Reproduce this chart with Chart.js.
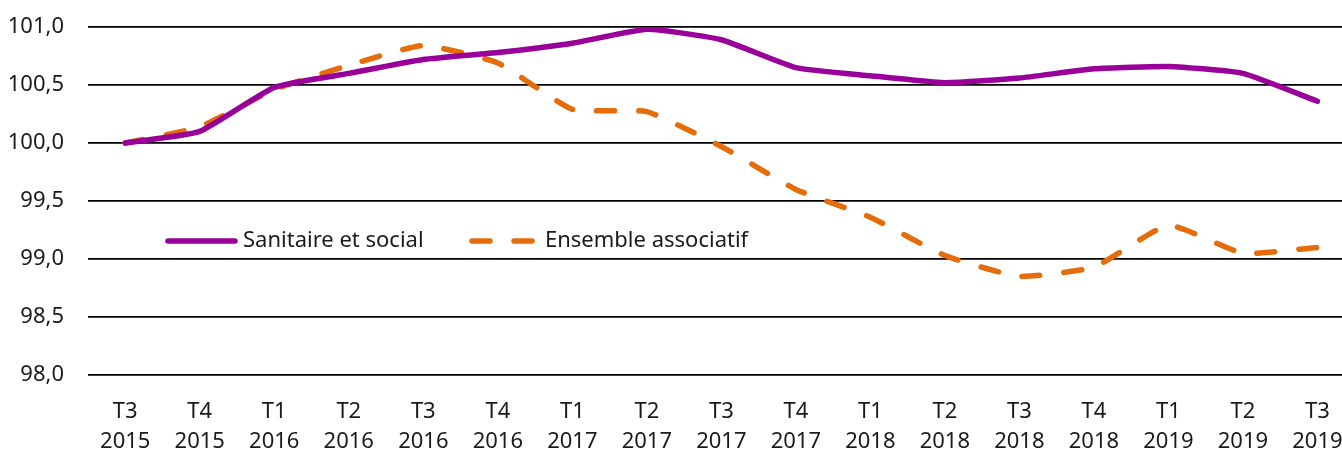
<!DOCTYPE html>
<html>
<head>
<meta charset="utf-8">
<script src="https://cdn.jsdelivr.net/npm/chart.js@4/dist/chart.umd.min.js"></script>
<style>
  html, body { margin: 0; padding: 0; background: #fff; overflow: hidden; }
  #wrap { width: 1342px; height: 450px; position: relative; }
</style>
</head>
<body>
<div id="wrap"><canvas id="chart" width="1342" height="450"></canvas></div>
<script>
const quarters = ["T3", "T4", "T1", "T2", "T3", "T4", "T1", "T2", "T3", "T4", "T1", "T2", "T3", "T4", "T1", "T2", "T3"];
const years = ["2015", "2015", "2016", "2016", "2016", "2016", "2017", "2017", "2017", "2017", "2018", "2018", "2018", "2018", "2019", "2019", "2019"];
const sanitaire = [100.0, 100.1, 100.48, 100.6, 100.72, 100.78, 100.86, 100.98, 100.89, 100.65, 100.58, 100.52, 100.56, 100.64, 100.66, 100.6, 100.36];
const ensemble = [100.0, 100.14, 100.46, 100.67, 100.84, 100.69, 100.29, 100.27, 99.97, 99.6, 99.36, 99.03, 98.85, 98.93, 99.29, 99.05, 99.1];

const FONT = "'Noto Sans', 'Open Sans', sans-serif";
const fmt = v => v.toFixed(1).replace(".", ",");

// légende dessinée dans la zone du graphique
const insideLegend = {
  id: "insideLegend",
  afterDraw(chart) {
    const ctx = chart.ctx;
    const y = 241;
    const items = [{ x: 168, len: 67, textX: 243 }, { x: 472, len: 60, textX: 545 }];
    ctx.save();
    ctx.font = "22px " + FONT;
    ctx.textBaseline = "middle";
    chart.data.datasets.forEach((ds, i) => {
      const it = items[i];
      ctx.strokeStyle = ds.borderColor;
      ctx.lineWidth = ds.borderWidth;
      ctx.lineCap = "round";
      ctx.setLineDash(ds.borderDash || []);
      ctx.beginPath();
      ctx.moveTo(it.x, y);
      ctx.lineTo(it.x + it.len, y);
      ctx.stroke();
      ctx.setLineDash([]);
      ctx.fillStyle = "#1a1a1a";
      ctx.fillText(ds.label, it.textX, y);
    });
    ctx.restore();
  }
};

new Chart(document.getElementById("chart"), {
  type: "line",
  data: {
    datasets: [
      {
        label: "Sanitaire et social",
        data: sanitaire.map((v, i) => ({ x: i, y: v })),
        borderColor: "#990099",
        borderWidth: 5.5,
        borderCapStyle: "round",
        borderJoinStyle: "round",
        pointRadius: 0,
        tension: 0.15
      },
      {
        label: "Ensemble associatif",
        data: ensemble.map((v, i) => ({ x: i, y: v })),
        borderColor: "#E46C0A",
        borderWidth: 5.5,
        borderDash: [18, 24],
        borderCapStyle: "round",
        pointRadius: 0,
        tension: 0.15
      }
    ]
  },
  options: {
    responsive: false,
    animation: false,
    maintainAspectRatio: false,
    layout: { padding: { top: 27, right: 0, left: 0, bottom: 0 } },
    plugins: {
      legend: { display: false },
      tooltip: { enabled: false }
    },
    scales: {
      x: {
        type: "linear",
        min: -0.5,
        max: 16.33,
        grid: { display: false },
        border: { display: false },
        afterBuildTicks: s => { s.ticks = quarters.map((_, i) => ({ value: i })); },
        afterFit: s => { s.height = 75; s.paddingLeft = 0; s.paddingRight = 0; },
        ticks: {
          autoSkip: false,
          maxRotation: 0,
          padding: 14,
          color: "#1a1a1a",
          font: { family: FONT, size: 22, lineHeight: 1.36 },
          callback: v => [quarters[v], years[v]]
        }
      },
      y: {
        min: 98,
        max: 101,
        grid: { color: "#000", lineWidth: 1.8, drawTicks: false },
        border: { display: false },
        afterFit: s => { s.width = 88; s.paddingTop = 0; s.paddingBottom = 0; },
        ticks: {
          stepSize: 0.5,
          padding: 24,
          color: "#1a1a1a",
          font: { family: FONT, size: 22 },
          callback: v => fmt(v)
        }
      }
    }
  },
  plugins: [insideLegend]
});
</script>
</body>
</html>
